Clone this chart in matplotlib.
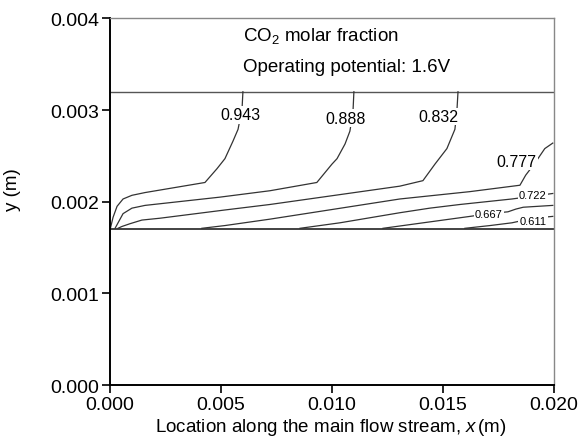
import matplotlib
matplotlib.use("Agg")
import matplotlib.pyplot as plt
from matplotlib.ticker import FormatStrFormatter, MultipleLocator

plt.rcParams["font.family"] = ["Liberation Sans", "DejaVu Sans"]
plt.rcParams["mathtext.fontset"] = "custom"
plt.rcParams["mathtext.rm"] = "Liberation Sans"
plt.rcParams["mathtext.it"] = "Liberation Sans:italic"

# channel boundaries (m)
y_bottom = 0.0017
y_top = 0.0032

# CO2 molar fraction iso-lines, digitised (x, y in m)
levels = ["0.943", "0.888", "0.832", "0.777", "0.722", "0.667", "0.611"]

x_943 = [0.00002, 0.00014, 0.00032, 0.00059, 0.00099, 0.00158, 0.00428, 0.00482, 0.00518, 0.00554, 0.00577, 0.00595, 0.00599]
y_943 = [0.00171, 0.00183, 0.00195, 0.00203, 0.00207, 0.00210, 0.00221, 0.00236, 0.00247, 0.00266, 0.00279, 0.00301, 0.00320]

x_888 = [0.00023, 0.00041, 0.00059, 0.00099, 0.00158, 0.00495, 0.00721, 0.00932, 0.01000, 0.01023, 0.01059, 0.01081, 0.01095, 0.01099]
y_888 = [0.00171, 0.00179, 0.00187, 0.00193, 0.00196, 0.00205, 0.00212, 0.00221, 0.00241, 0.00247, 0.00263, 0.00277, 0.00299, 0.00320]

x_832 = [0.00036, 0.00054, 0.00090, 0.00144, 0.00225, 0.00518, 0.00721, 0.01306, 0.01410, 0.01464, 0.01518, 0.01554, 0.01563, 0.01568]
y_832 = [0.00171, 0.00173, 0.00176, 0.00180, 0.00182, 0.00191, 0.00197, 0.00217, 0.00223, 0.00241, 0.00258, 0.00279, 0.00299, 0.00320]

x_777 = [0.00414, 0.00518, 0.00721, 0.01306, 0.01621, 0.01847, 0.01873, 0.01914, 0.01959, 0.01995]
y_777 = [0.00171, 0.00174, 0.00181, 0.00203, 0.00211, 0.00218, 0.00229, 0.00242, 0.00258, 0.00264]

x_722 = [0.00856, 0.01036, 0.01306, 0.01441, 0.01577, 0.01811, 0.01995]
y_722 = [0.00171, 0.00177, 0.00188, 0.00193, 0.00197, 0.00203, 0.00209]

x_667 = [0.01230, 0.01441, 0.01622, 0.01707, 0.01793, 0.01829, 0.01862, 0.01995]
y_667 = [0.00171, 0.00178, 0.00184, 0.00187, 0.00189, 0.00192, 0.00194, 0.00196]

x_611 = [0.01599, 0.01712, 0.01811, 0.01905, 0.01995]
y_611 = [0.00171, 0.00174, 0.00177, 0.00182, 0.00184]

# label anchor points (m) and font sizes
label_x = [0.00586, 0.01063, 0.01478, 0.01833, 0.01905, 0.01707, 0.01905]
label_y = [0.00295, 0.00291, 0.00293, 0.00244, 0.00207, 0.00187, 0.00179]
label_size = [11.5, 11.5, 11.5, 11.5, 8, 8, 8]

xs = [x_943, x_888, x_832, x_777, x_722, x_667, x_611]
ys = [y_943, y_888, y_832, y_777, y_722, y_667, y_611]

fig = plt.figure(figsize=(5.88, 4.39), dpi=100)
ax = fig.add_axes([0.187, 0.1207, 0.755, 0.835])

ax.axhline(y_top, color="#555555", lw=1.0, zorder=2)
ax.axhline(y_bottom, color="#222222", lw=1.2, zorder=2)

for x, y in zip(xs, ys):
    ax.plot(x, y, color="#333333", lw=0.9, zorder=2)

for lab, lx, ly, fs in zip(levels, label_x, label_y, label_size):
    ax.text(lx, ly, lab, fontsize=fs, ha="center", va="center", zorder=4,
            bbox=dict(facecolor="white", edgecolor="none", pad=1.0))

ax.text(0.00599, 0.00382, r"CO$_2$ molar fraction", fontsize=13.5, ha="left", va="center")
ax.text(0.00599, 0.00348, "Operating potential: 1.6V", fontsize=13.5, ha="left", va="center")

ax.set_xlim(0, 0.02)
ax.set_ylim(0, 0.004)
ax.xaxis.set_major_locator(MultipleLocator(0.005))
ax.yaxis.set_major_locator(MultipleLocator(0.001))
ax.xaxis.set_major_formatter(FormatStrFormatter("%.3f"))
ax.yaxis.set_major_formatter(FormatStrFormatter("%.3f"))
ax.tick_params(direction="out", length=6, width=1.2, labelsize=14, pad=2)

for side in ["left", "bottom"]:
    ax.spines[side].set_linewidth(1.4)
    ax.spines[side].set_color("black")
for side in ["top", "right"]:
    ax.spines[side].set_linewidth(1.0)
    ax.spines[side].set_color("#888888")

ax.set_xlabel(r"Location along the main flow stream, $x\,$(m)", fontsize=13.5)
ax.set_ylabel("y (m)", fontsize=13.5)
ax.xaxis.set_label_coords(0.498, -0.084)
ax.yaxis.set_label_coords(-0.20, 0.535)

fig.savefig("out.png", dpi=100)
